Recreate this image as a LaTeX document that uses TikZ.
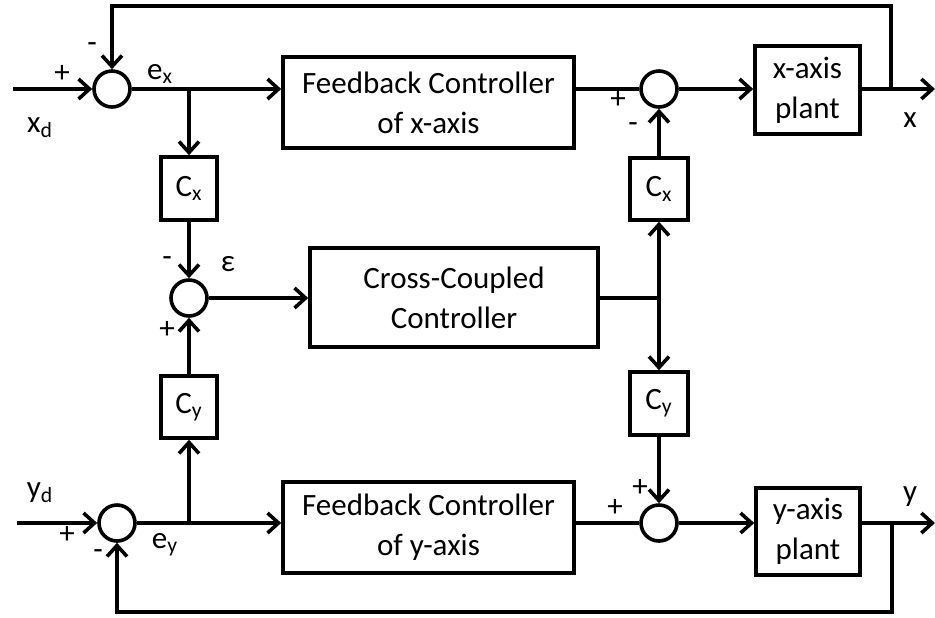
\documentclass[tikz,border=0pt]{standalone}
\usepackage{fontspec}
\setmainfont{Carlito}
\usetikzlibrary{arrows.meta}
\begin{document}
\begin{tikzpicture}[x=0.5pt,y=-0.5pt,
  line width=1.8pt,
  font=\fontsize{15.5}{20}\selectfont,
  arr/.style={-{Straight Barb[length=5.5pt,width=10pt,line width=1.8pt]}},
  sumnode/.style={circle,draw,minimum size=18pt,inner sep=0pt},
  blk/.style={draw,rectangle,align=center,inner sep=0pt},
  lbl/.style={inner sep=0pt}]
\useasboundingbox (0,0) rectangle (935,617);

% blocks
\node[sumnode] (sx) at (112,89) {};
\node[blk,minimum width=145.5pt,minimum height=45.5pt] (fbx) at (428.5,102.5) {Feedback Controller\\of x-axis};
\node[sumnode] (sx2) at (659,89) {};
\node[blk,minimum width=52.5pt,minimum height=44pt] (px) at (807.5,90) {x-axis\\plant};
\node[blk,minimum width=28pt,minimum height=31.5pt] (cx1) at (189,188.5) {C\textsubscript{x}};
\node[sumnode] (se) at (189,298) {};
\node[blk,minimum width=144pt,minimum height=49.5pt] (cc) at (454,297.5) {Cross-Coupled\\Controller};
\node[blk,minimum width=28pt,minimum height=31pt] (cy1) at (189,407) {C\textsubscript{y}};
\node[blk,minimum width=29pt,minimum height=31pt] (cx2) at (659,189) {C\textsubscript{x}};
\node[blk,minimum width=29pt,minimum height=31.5pt] (cy2) at (659,403.5) {C\textsubscript{y}};
\node[sumnode] (sy) at (117,523) {};
\node[blk,minimum width=145.5pt,minimum height=45.5pt] (fby) at (428.5,527.5) {Feedback Controller\\of y-axis};
\node[sumnode] (sy2) at (659,523) {};
\node[blk,minimum width=52pt,minimum height=43.5pt] (py) at (808,531.5) {y-axis\\plant};

% coordinates
\coordinate (xin) at (13,89);
\coordinate (bx) at (189,89);
\coordinate (xout) at (935,89);
\coordinate (tx) at (891,89);
\coordinate (tx1) at (891,6);
\coordinate (tx2) at (112,6);
\coordinate (jr) at (659,298);
\coordinate (yin) at (17,523);
\coordinate (by) at (189,523);
\coordinate (yout) at (935,523);
\coordinate (ty) at (892,523);
\coordinate (ty1) at (892,612);
\coordinate (ty2) at (117,612);

% x loop
\draw[arr] (xin) -- (sx);
\draw[arr] (sx) -- (sx -| fbx.west);
\draw[arr] (bx) -- (cx1);
\draw (sx2 -| fbx.east) -- (sx2);
\draw[arr] (sx2) -- (sx2 -| px.west);
\draw[arr] (px.east |- xout) -- (xout);
\draw[arr] (tx) -- (tx1) -- (tx2) -- (sx);
\draw[arr] (cx2) -- (sx2);

% cross coupling
\draw[arr] (cx1) -- (se);
\draw[arr] (cy1) -- (se);
\draw[arr] (se) -- (se -| cc.west);
\draw (cc.east |- jr) -- (jr);
\draw[arr] (jr) -- (cx2);
\draw[arr] (jr) -- (cy2);

% y loop
\draw[arr] (yin) -- (sy);
\draw[arr] (sy) -- (sy -| fby.west);
\draw[arr] (by) -- (cy1);
\draw (sy2 -| fby.east) -- (sy2);
\draw[arr] (cy2) -- (sy2);
\draw[arr] (sy2) -- (sy2 -| py.west);
\draw[arr] (py.east |- yout) -- (yout);
\draw[arr] (ty) -- (ty1) -- (ty2) -- (sy);

% labels
\node[lbl] (l1) at (62,74) {+};
\node[lbl] (l2) at (92,48) {-};
\node[lbl] (l3) at (160,74) {e\textsubscript{x}};
\node[lbl] (l4) at (40,128) {x\textsubscript{d}};
\node[lbl] (l5) at (618,100) {+};
\node[lbl] (l6) at (633,128) {-};
\node[lbl] (l7) at (910,120) {x};
\node[lbl] (l8) at (167,262) {-};
\node[lbl] (l9) at (228,264) {ε};
\node[lbl] (l10) at (167,330) {+};
\node[lbl] (l11) at (40,493) {y\textsubscript{d}};
\node[lbl] (l12) at (67,535) {+};
\node[lbl] (l13) at (98,555) {-};
\node[lbl] (l14) at (165,545) {e\textsubscript{y}};
\node[lbl] (l15) at (615,508) {+};
\node[lbl] (l16) at (640,488) {+};
\node[lbl] (l17) at (910,497) {y};
\end{tikzpicture}
\end{document}
